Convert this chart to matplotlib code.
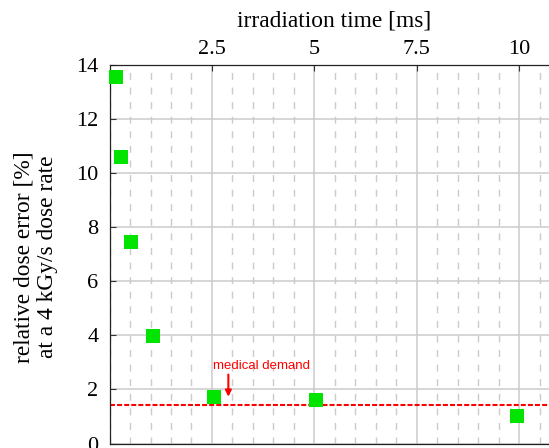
import matplotlib
matplotlib.use('Agg')
import matplotlib.pyplot as plt
from matplotlib.ticker import MultipleLocator

plt.rcParams['font.family'] = 'serif'
plt.rcParams['font.serif'] = ['Liberation Serif', 'DejaVu Serif']

# data
irradiation_ms = [0.15, 0.29, 0.52, 1.05, 2.55, 5.03, 9.94]
dose_error_pct = [13.55, 10.6, 7.45, 3.97, 1.71, 1.60, 1.02]
medical_demand = 1.42
x_ticks = [2.5, 5, 7.5, 10]
x_tick_labels = ['2.5', '5', '7.5', '10']
y_ticks = [0, 2, 4, 6, 8, 10, 12, 14]

fig = plt.figure(figsize=(5.49, 4.48), dpi=100)
ax = fig.add_axes([0.1995, 0.010, 0.8211, 0.8449])

ax.set_xlim(0, 11)
ax.set_ylim(0, 14)

# grid: solid major, dashed minor verticals
ax.xaxis.set_minor_locator(MultipleLocator(0.5))
ax.set_xticks(x_ticks)
ax.set_xticklabels(x_tick_labels)
ax.set_yticks(y_ticks)
ax.set_axisbelow(True)
ax.grid(which='major', color='#cbcbcb', lw=1.1)
ax.grid(which='minor', axis='x', color='#cbcbcb', lw=1.0, dashes=(5, 5.5))

ax.xaxis.tick_top()
ax.tick_params(axis='both', which='major', direction='in', length=4,
               width=0.8, color='#333333', labelsize=16)
ax.tick_params(axis='x', which='major', pad=4)
ax.tick_params(axis='y', which='major', pad=8)
ax.tick_params(axis='x', which='minor', length=0)

for side in ['left', 'top', 'bottom']:
    ax.spines[side].set_color('#222222')
    ax.spines[side].set_linewidth(0.9)
ax.spines['right'].set_visible(False)

# medical demand threshold
ax.axhline(medical_demand, color='red', lw=1.5, dashes=(2.4, 1.0), zorder=2)
ax.annotate('', xy=(2.90, 1.73), xytext=(2.90, 2.55),
            arrowprops=dict(arrowstyle='-|>', color='red', lw=1.5,
                            mutation_scale=9, shrinkA=0, shrinkB=0))
ax.text(3.71, 2.755, 'medical demand', color='red', fontsize=9.5,
        family=['Liberation Sans', 'DejaVu Sans'], ha='center', va='baseline')

ax.plot(irradiation_ms, dose_error_pct, 's', color='#00e400', markersize=10,
        markeredgewidth=0, zorder=3, clip_on=False)

fig.text(334.5 / 549, 1 - 21 / 448, 'irradiation time [ms]', fontsize=16.8,
         ha='center', va='center')
fig.text(36 / 549, 1 - 257 / 448, 'relative dose error [%]\nat a 4 kGy/s dose rate',
         fontsize=16.8, rotation=90, ha='center', va='center',
         multialignment='center', linespacing=1.15)

fig.savefig('out.png', dpi=100)
